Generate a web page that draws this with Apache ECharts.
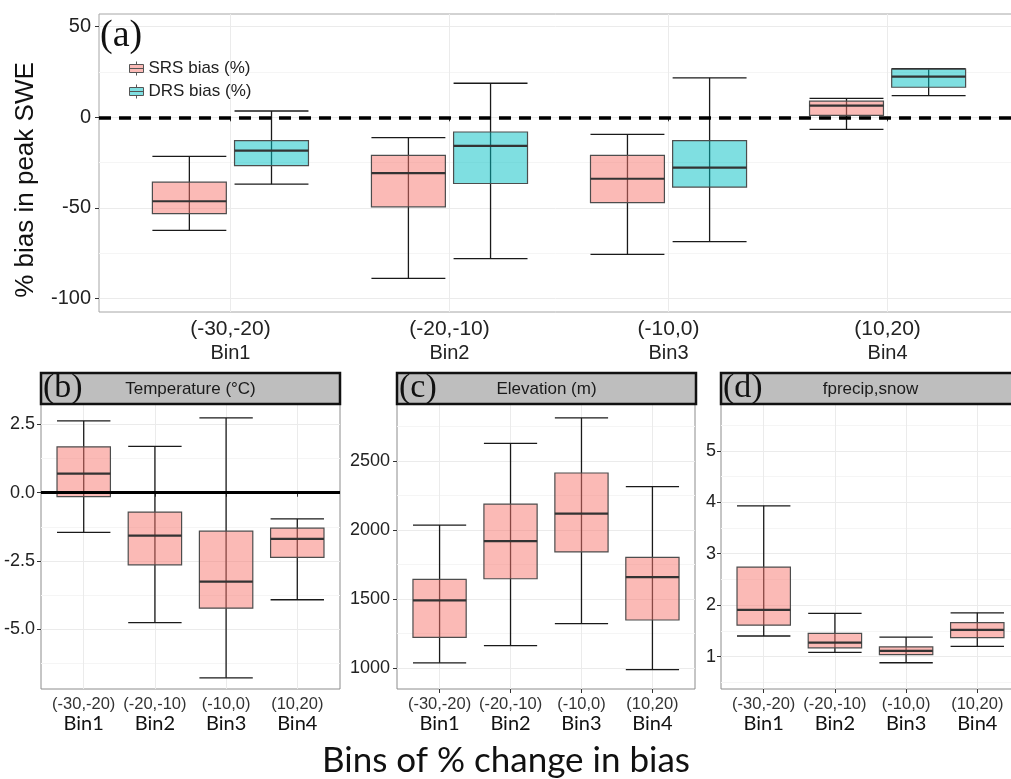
<!DOCTYPE html>
<html>
<head>
<meta charset="utf-8">
<title>Bins of % change in bias</title>
<script src="https://cdn.jsdelivr.net/npm/echarts@6/dist/echarts.min.js"></script>
<style>
html, body { margin: 0; padding: 0; background: #fff; }
#chart { width: 1011px; height: 779px; }
</style>
</head>
<body>
<div id="chart"></div>
<script>
const bins = ['(-30,-20)', '(-20,-10)', '(-10,0)', '(10,20)'];
const binNames = ['Bin1', 'Bin2', 'Bin3', 'Bin4'];

// box stats per bin: [lower whisker, q1, median, q3, upper whisker]
const srsBias = [[-62.4, -53.1, -46.3, -35.8, -21.6], [-88.9, -49.4, -30.8, -21.0, -11.2], [-75.6, -47.1, -33.9, -21.0, -9.4], [-6.6, 1.1, 6.5, 8.9, 10.4]];
const drsBias = [[-36.9, -26.7, -18.4, -12.9, 3.5], [-77.9, -36.5, -15.8, -8.1, 18.8], [-68.6, -38.5, -27.8, -12.9, 21.8], [12.0, 16.6, 22.5, 26.6, 26.8]];
const temperature = [[-1.45, -0.14, 0.70, 1.68, 2.63], [-4.76, -2.64, -1.57, -0.71, 1.70], [-6.78, -4.23, -3.26, -1.41, 2.74], [-3.92, -2.37, -1.69, -1.30, -0.96]];
const elevation = [[1038, 1222, 1490, 1643, 2036], [1162, 1647, 1920, 2188, 2628], [1321, 1841, 2118, 2413, 2812], [988, 1348, 1659, 1802, 2314]];
const fprecipSnow = [[1.40, 1.61, 1.91, 2.74, 3.93], [1.08, 1.17, 1.27, 1.45, 1.84], [0.88, 1.04, 1.11, 1.19, 1.38], [1.20, 1.37, 1.52, 1.66, 1.85]];

const biasTicks = [-100, -50, 0, 50];
const biasMinor = [-75, -25, 25];
const tempTicks = [-5, -2.5, 0, 2.5];
const tempMinor = [-6.25, -3.75, -1.25, 1.25];
const elevTicks = [1000, 1500, 2000, 2500];
const elevMinor = [1250, 1750, 2250, 2750];
const fracTicks = [1, 2, 3, 4, 5];
const fracMinor = [0.5, 1.5, 2.5, 3.5, 4.5, 5.5];

const SANS = '"Liberation Sans", Arial, sans-serif';
const CALI = 'Lato, "Open Sans", sans-serif';
const SERIF = '"Liberation Serif", serif';
const PINK = 'rgba(248,118,109,0.5)';
const CYAN = 'rgba(0,191,196,0.5)';
const binPos = [1, 2, 3, 4];

const chart = echarts.init(document.getElementById('chart'));

// ggplot-like box: whisker with caps, translucent box, thick median
function boxRenderer(shift, width, fill) {
    return function (params, api) {
        const x = api.value(0) + shift;
        const lo = api.coord([x, api.value(1)]);
        const q1 = api.coord([x, api.value(2)]);
        const med = api.coord([x, api.value(3)]);
        const q3 = api.coord([x, api.value(4)]);
        const hi = api.coord([x, api.value(5)]);
        const half = api.size([width, 0])[0] / 2;
        const cx = lo[0];
        const whisker = { stroke: '#1a1a1a', lineWidth: 1.3 };
        return {
            type: 'group',
            children: [
                { type: 'line', shape: { x1: cx, y1: hi[1], x2: cx, y2: lo[1] }, style: whisker },
                { type: 'line', shape: { x1: cx - half, y1: hi[1], x2: cx + half, y2: hi[1] }, style: whisker },
                { type: 'line', shape: { x1: cx - half, y1: lo[1], x2: cx + half, y2: lo[1] }, style: whisker },
                { type: 'rect', shape: { x: cx - half, y: q3[1], width: half * 2, height: q1[1] - q3[1] },
                  style: { fill: fill, stroke: '#4d4d4d', lineWidth: 1.2 } },
                { type: 'line', shape: { x1: cx - half, y1: med[1], x2: cx + half, y2: med[1] },
                  style: { stroke: '#333', lineWidth: 2.2 } }
            ]
        };
    };
}

const toRows = stats => stats.map((s, i) => [i + 1].concat(s));

function gridAt(left, top, width, height, border) {
    return {
        left: left, top: top, width: width, height: height,
        show: true, borderColor: border, borderWidth: 1,
        backgroundColor: 'transparent', outerBoundsMode: 'none'
    };
}

function xAxisFor(gridIndex, margin, rich) {
    return {
        type: 'value', gridIndex: gridIndex, min: 0.4, max: 4.6,
        axisLine: { show: false },
        axisTick: { show: true, customValues: binPos, length: 4, lineStyle: { color: '#333' } },
        axisLabel: {
            customValues: binPos, margin: margin, rich: rich,
            formatter: v => {
                const i = Math.round(v) - 1;
                return '{a|' + bins[i] + '}\n{b|' + binNames[i] + '}';
            }
        },
        splitLine: { show: true, lineStyle: { color: '#EBEBEB', width: 1 } }
    };
}

function yAxesFor(gridIndex, min, max, ticks, minor, fontSize, margin, fmt) {
    return [{
        type: 'value', gridIndex: gridIndex, min: min, max: max,
        axisLine: { show: false },
        axisTick: { show: true, customValues: ticks, length: 4, lineStyle: { color: '#333' } },
        axisLabel: {
            customValues: ticks, margin: margin, color: '#222',
            fontFamily: SANS, fontSize: fontSize,
            formatter: fmt || (v => String(v))
        },
        splitLine: { show: true, lineStyle: { color: '#EBEBEB', width: 1 } }
    }, {
        type: 'value', gridIndex: gridIndex, min: min, max: max, position: 'left',
        axisLine: { show: false },
        axisTick: { show: false, customValues: minor },
        axisLabel: { show: false },
        splitLine: { show: true, lineStyle: { color: '#F5F5F5', width: 1 } }
    }];
}

const topRich = {
    a: { fontFamily: SANS, fontSize: 21, color: '#222', lineHeight: 24 },
    b: { fontFamily: SANS, fontSize: 20, color: '#222', lineHeight: 24 }
};
const lowRich = {
    a: { fontFamily: SANS, fontSize: 16.5, color: '#333', lineHeight: 17 },
    b: { fontFamily: CALI, fontSize: 20, color: '#111', lineHeight: 22 }
};

const yAxes = [].concat(
    yAxesFor(0, -107.4, 57, biasTicks, biasMinor, 20, 8),
    yAxesFor(1, -7.19, 3.25, tempTicks, tempMinor, 18, 6, v => v.toFixed(1)),
    yAxesFor(2, 848, 2913, elevTicks, elevMinor, 18, 7),
    yAxesFor(3, 0.37, 5.91, fracTicks, fracMinor, 18, 5)
);

function strip(left, title, letter) {
    return [
        { type: 'rect', shape: { x: left, y: 373, width: 299, height: 31 },
          style: { fill: '#BEBEBE', stroke: '#111', lineWidth: 2.5 }, z: 10 },
        { type: 'text', x: left + 149.5, y: 389,
          style: { text: title, font: '17px ' + SANS, fill: '#1a1a1a', textAlign: 'center', textVerticalAlign: 'middle' }, z: 11 },
        { type: 'text', x: left + 2, y: 388,
          style: { text: letter, font: '34px ' + SERIF, fill: '#111', textAlign: 'left', textVerticalAlign: 'middle' }, z: 11 }
    ];
}

const option = {
    animation: false,
    backgroundColor: '#fff',
    grid: [
        gridAt(99, 14, 920, 298, '#A6A6A6'),
        gridAt(41, 404, 299, 285, '#8C8C8C'),
        gridAt(397, 404, 298, 285, '#8C8C8C'),
        gridAt(721, 404, 299, 285, '#8C8C8C')
    ],
    xAxis: [xAxisFor(0, 5, topRich), xAxisFor(1, 7, lowRich), xAxisFor(2, 7, lowRich), xAxisFor(3, 7, lowRich)],
    yAxis: yAxes,
    legend: {
        left: 129, top: 60, orient: 'vertical', padding: 0,
        itemWidth: 14, itemHeight: 14, itemGap: 6, selectedMode: false,
        icon: 'path://M0,3H14V11H0ZM7,0V3M0,7H14M7,11V14',
        textStyle: { fontFamily: SANS, fontSize: 17, color: '#222' },
        data: [
            { name: 'SRS bias (%)', itemStyle: { color: PINK, borderColor: '#555', borderWidth: 1 } },
            { name: 'DRS bias (%)', itemStyle: { color: CYAN, borderColor: '#555', borderWidth: 1 } }
        ]
    },
    graphic: [
        { type: 'text', x: 100, y: 36,
          style: { text: '(a)', font: '38px ' + SERIF, fill: '#111', textAlign: 'left', textVerticalAlign: 'middle' }, z: 11 },
        { type: 'text', x: 26, y: 180, rotation: Math.PI / 2,
          style: { text: '% bias in peak SWE', font: '26px ' + SANS, fill: '#111', textAlign: 'center', textVerticalAlign: 'middle' } },
        { type: 'text', x: 506, y: 761,
          style: { text: 'Bins of % change in bias', font: '35px ' + CALI, fill: '#111', textAlign: 'center', textVerticalAlign: 'middle' } }
    ].concat(
        strip(41, 'Temperature (°C)', '(b)'),
        strip(397, 'Elevation (m)', '(c)'),
        strip(721, 'fprecip,snow', '(d)')
    ),
    series: [
        {
            name: 'SRS bias (%)', type: 'custom', xAxisIndex: 0, yAxisIndex: 0,
            itemStyle: { color: PINK },
            renderItem: boxRenderer(-0.1875, 0.3375, PINK),
            encode: { x: 0, y: [1, 2, 3, 4, 5] },
            data: toRows(srsBias),
            markLine: {
                silent: true, symbol: 'none', label: { show: false }, z: 5,
                lineStyle: { color: '#000', width: 3.5, type: [12, 8] },
                data: [{ yAxis: 0 }]
            }
        },
        {
            name: 'DRS bias (%)', type: 'custom', xAxisIndex: 0, yAxisIndex: 0,
            itemStyle: { color: CYAN },
            renderItem: boxRenderer(0.1875, 0.3375, CYAN),
            encode: { x: 0, y: [1, 2, 3, 4, 5] },
            data: toRows(drsBias)
        },
        {
            name: 'Temperature', type: 'custom', xAxisIndex: 1, yAxisIndex: 2,
            renderItem: boxRenderer(0, 0.75, PINK),
            encode: { x: 0, y: [1, 2, 3, 4, 5] },
            data: toRows(temperature),
            markLine: {
                silent: true, symbol: 'none', label: { show: false }, z: 5,
                lineStyle: { color: '#000', width: 3, type: 'solid' },
                data: [{ yAxis: 0 }]
            }
        },
        {
            name: 'Elevation', type: 'custom', xAxisIndex: 2, yAxisIndex: 4,
            renderItem: boxRenderer(0, 0.75, PINK),
            encode: { x: 0, y: [1, 2, 3, 4, 5] },
            data: toRows(elevation)
        },
        {
            name: 'fprecip,snow', type: 'custom', xAxisIndex: 3, yAxisIndex: 6,
            renderItem: boxRenderer(0, 0.75, PINK),
            encode: { x: 0, y: [1, 2, 3, 4, 5] },
            data: toRows(fprecipSnow)
        }
    ]
};

chart.setOption(option);
</script>
</body>
</html>
